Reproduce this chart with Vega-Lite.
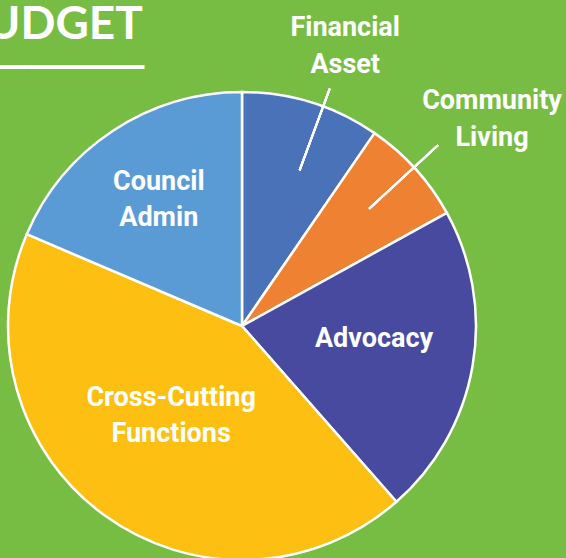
{
  "$schema": "https://vega.github.io/schema/vega-lite/v6.json",
  "width": 484,
  "height": 464,
  "autosize": {"type": "none"},
  "padding": {"left": 0, "top": 94, "right": 82, "bottom": 0},
  "background": "#77bd43",
  "config": {"view": {"stroke": null}},
  "title": {
    "text": "BUDGET",
    "subtitle": "━━━━━━━━━━━━━",
    "anchor": "start",
    "frame": "group",
    "dx": -44,
    "dy": 85,
    "offset": 0,
    "font": "Lato",
    "fontSize": 46,
    "fontWeight": "bold",
    "color": "white",
    "subtitleFont": "DejaVu Sans Mono",
    "subtitleFontSize": 24,
    "subtitleColor": "white",
    "subtitlePadding": 7
  },
  "data": {
    "values": [
      {"slice": "Financial Asset", "label": "Financial\nAsset", "value": 34.5, "idx": 1},
      {"slice": "Community Living", "label": "Community\nLiving", "value": 26.6, "idx": 2},
      {"slice": "Advocacy", "label": "Advocacy", "value": 77.6, "idx": 3},
      {"slice": "Cross-Cutting Functions", "label": "Cross-Cutting\nFunctions", "value": 154.4, "idx": 4},
      {"slice": "Council Admin", "label": "Council\nAdmin", "value": 66.9, "idx": 5}
    ]
  },
  "layer": [
    {
      "mark": {"type": "arc", "radius": 234, "stroke": "white", "strokeWidth": 2.5},
      "encoding": {
        "theta": {"field": "value", "type": "quantitative", "stack": true},
        "order": {"field": "idx", "type": "quantitative"},
        "color": {
          "field": "slice",
          "type": "nominal",
          "scale": {
            "domain": ["Financial Asset", "Community Living", "Advocacy", "Cross-Cutting Functions", "Council Admin"],
            "range": ["#4a72b8", "#ef8133", "#474a9f", "#fdbf12", "#5b9bd5"]
          },
          "legend": null
        }
      }
    },
    {
      "mark": {"type": "arc", "theta": 0.3543, "theta2": 0.3543, "radius": 166, "radius2": 253, "stroke": "white", "strokeWidth": 2, "fill": null},
      "encoding": {}
    },
    {
      "mark": {"type": "arc", "theta": 0.8255, "theta2": 0.8255, "radius": 173, "radius2": 267, "stroke": "white", "strokeWidth": 2, "fill": null},
      "encoding": {}
    },
    {
      "mark": {"type": "text", "radius": 151, "dy": -18, "font": "Roboto", "fontWeight": "bold", "fontSize": 27, "lineHeight": 36, "lineBreak": "\n", "color": "white"},
      "encoding": {
        "theta": {"field": "value", "type": "quantitative", "stack": true},
        "order": {"field": "idx", "type": "quantitative"},
        "text": {"condition": {"test": "datum.slice === 'Council Admin'", "field": "label"}, "value": ""}
      }
    },
    {
      "mark": {"type": "text", "radius": 114, "dx": -4, "dy": -20, "font": "Roboto", "fontWeight": "bold", "fontSize": 27, "lineHeight": 36, "lineBreak": "\n", "color": "white"},
      "encoding": {
        "theta": {"field": "value", "type": "quantitative", "stack": true},
        "order": {"field": "idx", "type": "quantitative"},
        "text": {"condition": {"test": "datum.slice === 'Cross-Cutting Functions'", "field": "label"}, "value": ""}
      }
    },
    {
      "mark": {"type": "text", "radius": 134, "dy": -10, "font": "Roboto", "fontWeight": "bold", "fontSize": 27, "lineHeight": 36, "lineBreak": "\n", "color": "white"},
      "encoding": {
        "theta": {"field": "value", "type": "quantitative", "stack": true},
        "order": {"field": "idx", "type": "quantitative"},
        "text": {"condition": {"test": "datum.slice === 'Advocacy'", "field": "label"}, "value": ""}
      }
    },
    {
      "mark": {"type": "text", "radius": 294, "dx": 16, "dy": -17, "font": "Roboto", "fontWeight": "bold", "fontSize": 27, "lineHeight": 37, "lineBreak": "\n", "color": "white"},
      "encoding": {
        "theta": {"field": "value", "type": "quantitative", "stack": true},
        "order": {"field": "idx", "type": "quantitative"},
        "text": {"condition": {"test": "datum.slice === 'Financial Asset'", "field": "label"}, "value": ""}
      }
    },
    {
      "mark": {"type": "text", "radius": 320, "dx": 13, "dy": -10, "font": "Roboto", "fontWeight": "bold", "fontSize": 27, "lineHeight": 37, "lineBreak": "\n", "color": "white"},
      "encoding": {
        "theta": {"field": "value", "type": "quantitative", "stack": true},
        "order": {"field": "idx", "type": "quantitative"},
        "text": {"condition": {"test": "datum.slice === 'Community Living'", "field": "label"}, "value": ""}
      }
    }
  ]
}
